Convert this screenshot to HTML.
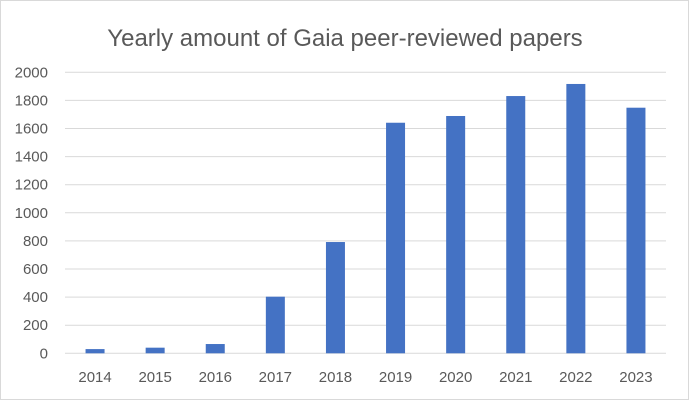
<!DOCTYPE html>
<html><head><meta charset="utf-8"><style>
html,body{margin:0;padding:0;background:#fff;}
#wrap{position:relative;width:690px;height:401px;overflow:hidden;}
text{font-family:"Liberation Sans",sans-serif;fill:#595959;}
</style></head><body>
<div id="wrap">
<svg id="chart" width="690" height="401">
<rect x="0.5" y="0.5" width="688" height="399" fill="#fff" stroke="#d9d9d9"/>
<text x="345" y="46" text-anchor="middle" font-size="24">Yearly amount of Gaia peer-reviewed papers</text>
<g id="grid"></g><g id="bars"></g><g id="labels"></g>
</svg>
</div>
<script>
const categories=["2014","2015","2016","2017","2018","2019","2020","2021","2022","2023"];
const papers=[30,40,66,403,792,1641,1689,1831,1917,1748];
const yTicks=[0,200,400,600,800,1000,1200,1400,1600,1800,2000];
const NS="http://www.w3.org/2000/svg";
const x0=65,x1=666,yBase=353.3,yTop=72.3,yMax=2000;
const step=(x1-x0)/categories.length,bw=19;
function y(v){return yBase-(v/yMax)*(yBase-yTop);}
function xc(i){return x0+step*(i+0.5);}
function mk(t,a,p){const e=document.createElementNS(NS,t);for(const k in a)e.setAttribute(k,a[k]);p.appendChild(e);return e;}
const g=document.getElementById('grid'),b=document.getElementById('bars'),l=document.getElementById('labels');
yTicks.forEach(v=>{
 const ln=mk('line',{x1:x0,x2:x1,y1:y(v),y2:y(v),stroke:'#d9d9d9','stroke-width':1},g);
 
 
 const t=mk('text',{x:48,y:y(v)+5,'text-anchor':'end','font-size':15},l);
 t.textContent=v;
 
 
});
categories.forEach((c,i)=>{
 const r=mk('rect',{x:xc(i)-bw/2,y:y(papers[i]),width:bw,height:yBase-y(papers[i]),fill:'#4472c4'},b);
 
 
 const t=mk('text',{x:xc(i),y:382,'text-anchor':'middle','font-size':15},l);
 t.textContent=c;
 
 
});
</script>
</body></html>
